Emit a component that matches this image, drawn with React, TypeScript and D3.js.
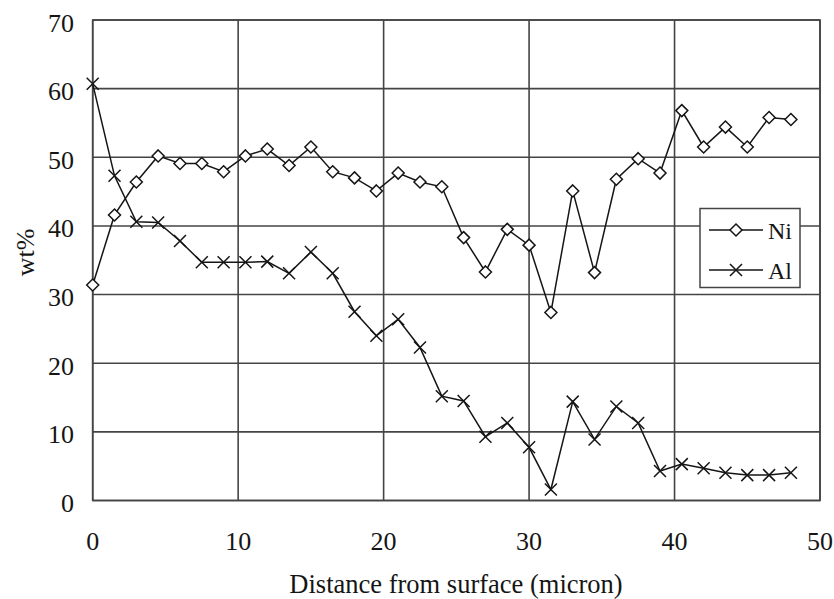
import React from "react";
import * as d3 from "d3";

const distance = [0,1.5,3,4.5,6,7.5,9,10.5,12,13.5,15,16.5,18,19.5,21,22.5,24,25.5,27,28.5,30,31.5,33,34.5,36,37.5,39,40.5,42,43.5,45,46.5,48];
const ni = [31.4,41.6,46.4,50.2,49.1,49.1,47.9,50.2,51.2,48.8,51.5,47.9,47.0,45.1,47.7,46.4,45.7,38.3,33.3,39.5,37.2,27.4,45.1,33.2,46.8,49.8,47.7,56.8,51.5,54.4,51.5,55.8,55.5];
const al = [60.7,47.3,40.6,40.5,37.8,34.7,34.7,34.7,34.8,33.1,36.2,33.1,27.5,24.0,26.4,22.3,15.2,14.5,9.3,11.3,7.75,1.6,14.4,8.9,13.7,11.3,4.3,5.3,4.7,4.05,3.7,3.7,4.05];
const xTicks = [0,10,20,30,40,50];
const yTicks = [0,10,20,30,40,50,60,70];
const seriesNames = ["Ni","Al"];

const W = 834, H = 599;
const left = 92.7, right = 820, top = 20, bottom = 500.5;

export default function App() {
  const x = d3.scaleLinear().domain([0,50]).range([left,right]);
  const y = d3.scaleLinear().domain([0,70]).range([bottom,top]);
  const line = d3.line<number>().x((_, i) => x(distance[i])).y(d => y(d));
  const font = "'Liberation Serif', 'Times New Roman', serif";
  const ink = "#151515";
  const diamond = (cx: number, cy: number, k: string, r = 6) => (
    <path key={k} d={`M${cx},${cy - r}L${cx + r},${cy}L${cx},${cy + r}L${cx - r},${cy}Z`} fill="white" stroke={ink} strokeWidth={1.5} />
  );
  const cross = (cx: number, cy: number, k: string, r = 6) => (
    <path key={k} d={`M${cx - r},${cy - r}L${cx + r},${cy + r}M${cx - r},${cy + r}L${cx + r},${cy - r}`} fill="none" stroke={ink} strokeWidth={1.5} />
  );
  const lx = 700, lw = 100, ly = 208.5, lh = 79;
  return (
    <svg width={W} height={H} style={{ position: "absolute", left: 0, top: 0, background: "white" }} fontFamily={font}>
      <rect x={0} y={0} width={W} height={H} fill="white" />
      {yTicks.map(t => (
        <line key={"gy" + t} x1={left} x2={right} y1={y(t)} y2={y(t)} stroke="#444" strokeWidth={1.6} />
      ))}
      {xTicks.map(t => (
        <line key={"gx" + t} x1={x(t)} x2={x(t)} y1={top} y2={bottom} stroke="#444" strokeWidth={1.6} />
      ))}
      <rect x={left} y={top} width={right - left} height={bottom - top} fill="none" stroke="#444" strokeWidth={1.6} />
      {yTicks.map(t => (
        <text key={"ty" + t} x={74} y={y(t) + 11.5} textAnchor="end" fontSize={26} fill={ink}>{t}</text>
      ))}
      {xTicks.map(t => (
        <text key={"tx" + t} x={x(t)} y={550} textAnchor="middle" fontSize={26} fill={ink}>{t}</text>
      ))}
      <text x={456} y={593} textAnchor="middle" fontSize={26.5} fill={ink}>Distance from surface (micron)</text>
      <text transform={`translate(24.5,252.5) rotate(-90)`} dy="0.35em" textAnchor="middle" fontSize={26} fill={ink}>wt%</text>
      <path d={line(ni) || ""} fill="none" stroke={ink} strokeWidth={1.5} />
      <path d={line(al) || ""} fill="none" stroke={ink} strokeWidth={1.5} />
      {ni.map((v, i) => diamond(x(distance[i]), y(v), "n" + i))}
      {al.map((v, i) => cross(x(distance[i]), y(v), "a" + i))}
      <rect x={lx} y={ly} width={lw} height={lh} fill="white" stroke="#444" strokeWidth={1.5} />
      {seriesNames.map((s, i) => {
        const yy = ly + 21.5 + i * 40;
        return (
          <g key={s}>
            <line x1={709} x2={763} y1={yy} y2={yy} stroke={ink} strokeWidth={1.5} />
            {i === 0 ? diamond(736, yy, "ld") : cross(736, yy, "lc")}
            <text x={768} y={yy + 8.5} fontSize={24} fill={ink}>{s}</text>
          </g>
        );
      })}
    </svg>
  );
}
